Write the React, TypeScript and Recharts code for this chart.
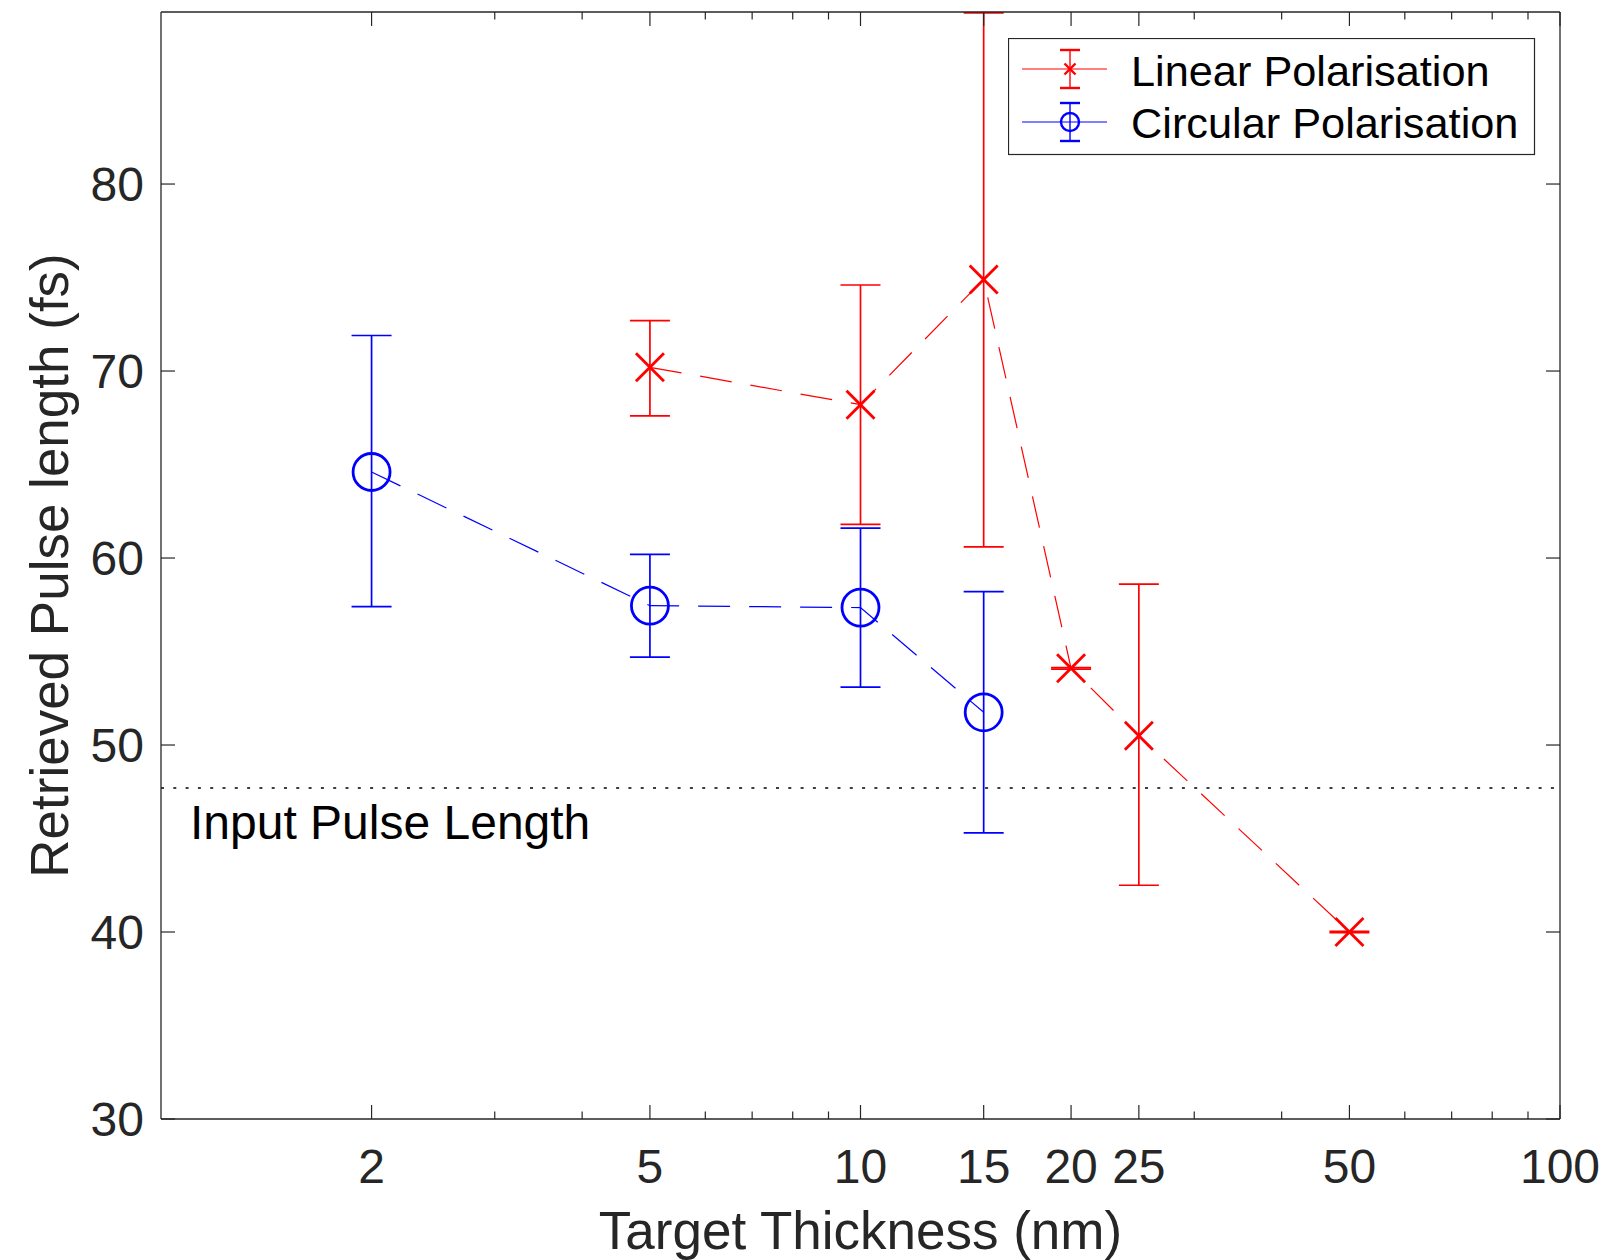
import React from "react";
import {
  ComposedChart,
  Line,
  XAxis,
  YAxis,
  ErrorBar,
  ReferenceLine,
  Legend,
} from "recharts";

// thickness in nm, pulse length in fs
const thicknessTicks = [2, 5, 10, 15, 20, 25, 50, 100];
const minorTicks = [3, 4, 6, 7, 8, 9, 30, 40, 60, 70, 80, 90];
const pulseTicks = [30, 40, 50, 60, 70, 80];

const linearThickness = [5, 10, 15, 20, 25, 50];
const linearPulse = [70.2, 68.2, 74.9, 54.1, 50.5, 40.0];
const linearLow = [67.6, 61.8, 60.6, 54.06, 42.5, 39.96];
const linearHigh = [72.7, 74.6, 89.15, 54.14, 58.6, 40.04];

const circularThickness = [2, 5, 10, 15];
const circularPulse = [64.6, 57.45, 57.35, 51.75];
const circularLow = [57.4, 54.7, 53.1, 45.3];
const circularHigh = [71.9, 60.2, 61.6, 58.2];

const inputPulse = 47.7;

const linearData = linearThickness.map((x, i) => ({
  x,
  y: linearPulse[i],
  err: [linearPulse[i] - linearLow[i], linearHigh[i] - linearPulse[i]],
}));
const circularData = circularThickness.map((x, i) => ({
  x,
  y: circularPulse[i],
  err: [circularPulse[i] - circularLow[i], circularHigh[i] - circularPulse[i]],
}));

const allTicks = [...thicknessTicks, ...minorTicks].sort((a, b) => a - b);

const AXIS = "#262626";
const RED = "#ff0000";
const BLUE = "#0000ff";
const FONT = "'Liberation Sans', Arial, Helvetica, sans-serif";

const W = 1600;
const H = 1252;
// axes are 1px thick, so the margins are one less than the plot offsets
const M = { top: 3, left: 152, right: 47, bottom: 140 };

const BottomTick = (p: any) => {
  const major = thicknessTicks.includes(p.payload.value);
  return (
    <g>
      <line x1={p.x} x2={p.x} y1={p.y} y2={p.y - (major ? 14 : 7.5)} stroke={AXIS} strokeWidth={1.2} />
      {major && (
        <text x={p.x} y={p.y + 64} textAnchor="middle" fontSize={48} fill={AXIS} fontFamily={FONT}>
          {p.payload.value}
        </text>
      )}
    </g>
  );
};

const TopTick = (p: any) => {
  const major = thicknessTicks.includes(p.payload.value);
  return <line x1={p.x} x2={p.x} y1={p.y} y2={p.y + (major ? 14 : 7.5)} stroke={AXIS} strokeWidth={1.2} />;
};

const LeftTick = (p: any) => (
  <g>
    <line x1={p.x} x2={p.x + 14} y1={p.y} y2={p.y} stroke={AXIS} strokeWidth={1.2} />
    <text x={p.x - 17} y={p.y + 17} textAnchor="end" fontSize={48} fill={AXIS} fontFamily={FONT}>
      {p.payload.value}
    </text>
  </g>
);

const RightTick = (p: any) => (
  <line x1={p.x} x2={p.x - 14} y1={p.y} y2={p.y} stroke={AXIS} strokeWidth={1.2} />
);

const Cross = (p: any) => {
  const { cx, cy, s = 14, w = 2.8 } = p;
  if (cx == null || cy == null) return null;
  return (
    <g key={`c-${p.index}`}>
      <line x1={cx - s} y1={cy - s} x2={cx + s} y2={cy + s} stroke={RED} strokeWidth={w} />
      <line x1={cx - s} y1={cy + s} x2={cx + s} y2={cy - s} stroke={RED} strokeWidth={w} />
    </g>
  );
};

const Ring = (p: any) => {
  const { cx, cy } = p;
  if (cx == null || cy == null) return null;
  return <circle key={`o-${p.index}`} cx={cx} cy={cy} r={18.5} fill="none" stroke={BLUE} strokeWidth={2.8} />;
};

const LegendBox = () => (
  <svg width={530} height={118} style={{ display: "block" }}>
    <rect x={0.5} y={0.5} width={526} height={116} fill="#fff" stroke={AXIS} strokeWidth={1.2} />
    {/* linear */}
    <line x1={14} x2={99} y1={31} y2={31} stroke={RED} strokeWidth={1.2} />
    <line x1={62} x2={62} y1={12} y2={50} stroke={RED} strokeWidth={1.4} />
    <line x1={52} x2={72} y1={12} y2={12} stroke={RED} strokeWidth={2.4} />
    <line x1={52} x2={72} y1={50} y2={50} stroke={RED} strokeWidth={2.4} />
    <Cross cx={62} cy={31} s={5.5} w={2.4} />
    <text x={123} y={48} fontSize={43.3} fontFamily={FONT} fill="#000">
      Linear Polarisation
    </text>
    {/* circular */}
    <line x1={14} x2={99} y1={84} y2={84} stroke={BLUE} strokeWidth={1.2} />
    <line x1={62} x2={62} y1={65} y2={103} stroke={BLUE} strokeWidth={1.4} />
    <line x1={52} x2={72} y1={65} y2={65} stroke={BLUE} strokeWidth={2.4} />
    <line x1={52} x2={72} y1={103} y2={103} stroke={BLUE} strokeWidth={2.4} />
    <circle cx={62} cy={84} r={9} fill="none" stroke={BLUE} strokeWidth={2.4} />
    <text x={123} y={100} fontSize={43.3} fontFamily={FONT} fill="#000">
      Circular Polarisation
    </text>
  </svg>
);

export default function App() {
  const plotLeft = M.left + 1;
  const plotRight = W - M.right - 1;
  const plotTop = M.top + 1;
  const plotBottom = H - M.bottom - 1;
  return (
    <div style={{ width: W, height: H }}>
      <ComposedChart width={W} height={H} margin={M}>
        <XAxis
          xAxisId="bottom"
          dataKey="x"
          type="number"
          scale="log"
          domain={[1, 100]}
          allowDataOverflow
          ticks={allTicks}
          interval={0}
          height={1}
          tickSize={0}
          tickMargin={0}
          tickLine={false}
          axisLine={{ stroke: AXIS, strokeWidth: 1.3 }}
          tick={(p: any) => <BottomTick {...p} />}
          label={{
            content: () => (
              <text x={(plotLeft + plotRight) / 2} y={1241} textAnchor="middle" fontSize={53} fill={AXIS} fontFamily={FONT}>
                Target Thickness (nm)
              </text>
            ),
          }}
        />
        <XAxis
          xAxisId="top"
          orientation="top"
          dataKey="x"
          type="number"
          scale="log"
          domain={[1, 100]}
          allowDataOverflow
          ticks={allTicks}
          interval={0}
          height={1}
          tickSize={0}
          tickMargin={0}
          tickLine={false}
          axisLine={{ stroke: AXIS, strokeWidth: 1.3 }}
          tick={(p: any) => <TopTick {...p} />}
        />
        <YAxis
          yAxisId="left"
          type="number"
          domain={[30, 89.2]}
          allowDataOverflow
          ticks={pulseTicks}
          interval={0}
          width={1}
          tickSize={0}
          tickMargin={0}
          tickLine={false}
          axisLine={{ stroke: AXIS, strokeWidth: 1.3 }}
          tick={(p: any) => <LeftTick {...p} />}
          label={{
            content: () => {
              const cy = (plotTop + plotBottom) / 2;
              return (
                <text x={60} y={cy} transform={`rotate(-90 60 ${cy})`} textAnchor="middle" fontSize={53} fill={AXIS} fontFamily={FONT}>
                  Retrieved Pulse length (fs)
                </text>
              );
            },
          }}
        />
        <YAxis
          yAxisId="right"
          orientation="right"
          type="number"
          domain={[30, 89.2]}
          allowDataOverflow
          ticks={pulseTicks}
          interval={0}
          width={1}
          tickSize={0}
          tickMargin={0}
          tickLine={false}
          axisLine={{ stroke: AXIS, strokeWidth: 1.3 }}
          tick={(p: any) => <RightTick {...p} />}
        />
        <ReferenceLine
          xAxisId="bottom"
          yAxisId="left"
          y={inputPulse}
          stroke="#000"
          strokeWidth={1.3}
          strokeDasharray="3 9.3"
          label={{
            content: (p: any) => (
              <text x={p.viewBox.x + 29} y={p.viewBox.y + 51} fontSize={48} fill="#000" fontFamily={FONT}>
                Input Pulse Length
              </text>
            ),
          }}
        />
        <Line
          xAxisId="bottom"
          yAxisId="left"
          data={linearData}
          dataKey="y"
          type="linear"
          stroke={RED}
          strokeWidth={1.2}
          strokeDasharray="32 19"
          dot={(p: any) => <Cross key={`lc-${p.index}`} {...p} />}
          activeDot={false}
          isAnimationActive={false}
        >
          <ErrorBar dataKey="err" direction="y" width={20} stroke={RED} strokeWidth={1.7} isAnimationActive={false} />
        </Line>
        <Line
          xAxisId="bottom"
          yAxisId="left"
          data={circularData}
          dataKey="y"
          type="linear"
          stroke={BLUE}
          strokeWidth={1.2}
          strokeDasharray="32 19"
          dot={(p: any) => <Ring key={`cr-${p.index}`} {...p} />}
          activeDot={false}
          isAnimationActive={false}
        >
          <ErrorBar dataKey="err" direction="y" width={20} stroke={BLUE} strokeWidth={1.7} isAnimationActive={false} />
        </Line>
        <Legend
          layout="vertical"
          align="center"
          verticalAlign="middle"
          content={() => <LegendBox />}
          wrapperStyle={{ left: 1000, top: 30, width: 530, height: 118 }}
        />
      </ComposedChart>
    </div>
  );
}
